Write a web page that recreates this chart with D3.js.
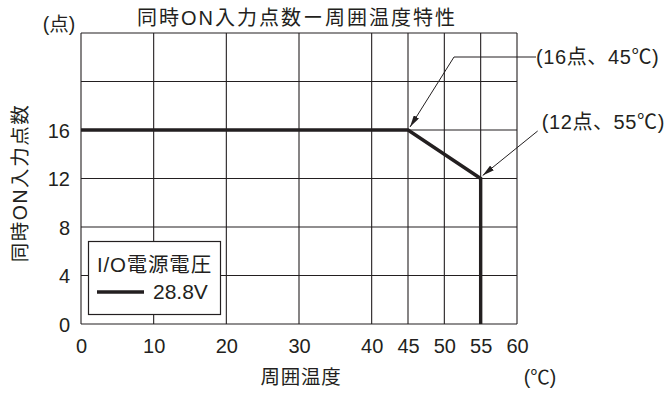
<!DOCTYPE html>
<html><head><meta charset="utf-8">
<script src="https://cdn.jsdelivr.net/npm/d3@7/dist/d3.min.js"></script>
<style>
body{margin:0;background:#fff;}
svg{display:block;}
</style></head>
<body>
<svg id="c" width="667" height="394"></svg>
<script>
const title = "同時ON入力点数ー周囲温度特性";
const xTicks = [0,10,20,30,40,45,50,55,60];
const yTicks = [0,4,8,12,16];
const yGrid = [0,4,8,12,16,20,24];
const temps = [0,45,55,55];
const points = [16,16,12,0];
const seriesName = "28.8V";
const legendTitle = "I/O電源電圧";
const notes = [
  {t:45, v:16, label:"(16点、45℃)"},
  {t:55, v:12, label:"(12点、55℃)"}
];

const CJK = '"Noto Sans CJK JP","Noto Sans",sans-serif';
const LAT = '"Liberation Sans",Arial,sans-serif';
const ink="#231f20";
const svg = d3.select("#c");
const L=81, R=517, T=33, B=324;
const x = d3.scaleLinear().domain([0,60]).range([L,R]);
const y = d3.scaleLinear().domain([0,24]).range([B,T]);

// mixed-script text: latin runs in Liberation Sans, CJK runs in Noto Sans CJK
function mixed(sel, str, size, ls){
  const runs = str.match(/[\x00-\x7F]+|[^\x00-\x7F]+/g) || [];
  runs.forEach(r=>{
    const lat = /^[\x00-\x7F]+$/.test(r);
    sel.append("tspan").attr("font-family", lat?LAT:CJK)
      .attr("font-size", size).text(r);
  });
  if(ls) sel.attr("letter-spacing", ls);
  return sel;
}

// grid
svg.append("g").selectAll("line").data(xTicks).join("line")
  .attr("x1",d=>x(d)).attr("x2",d=>x(d)).attr("y1",T).attr("y2",B)
  .attr("stroke",ink).attr("stroke-width",1.1);
svg.append("g").selectAll("line").data(yGrid).join("line")
  .attr("y1",d=>y(d)).attr("y2",d=>y(d)).attr("x1",L).attr("x2",R)
  .attr("stroke",ink).attr("stroke-width",1.1);

// axes tick labels
const xa = svg.append("g").attr("transform",`translate(0,${B})`)
  .call(d3.axisBottom(x).tickValues(xTicks).tickSize(0).tickPadding(15));
xa.attr("font-family",LAT).attr("font-size",20);
xa.select(".domain").remove();
xa.selectAll("text").attr("fill",ink);
const ya = svg.append("g").attr("transform",`translate(${L},0)`)
  .call(d3.axisLeft(y).tickValues(yTicks).tickSize(0).tickPadding(11));
ya.attr("font-family",LAT).attr("font-size",20);
ya.select(".domain").remove();
ya.selectAll("text").attr("fill",ink).attr("dy","0.36em");

// data line
const line = d3.line().x((d,i)=>x(temps[i])).y((d,i)=>y(d));
svg.append("path").datum(points).attr("d",line).attr("fill","none")
  .attr("stroke",ink).attr("stroke-width",3.4).attr("stroke-linejoin","miter");

// titles
mixed(svg.append("text").attr("x",297).attr("y",25).attr("text-anchor","middle").attr("fill",ink), title, 20, 2);
mixed(svg.append("text").attr("x",59).attr("y",31).attr("text-anchor","middle").attr("fill",ink), "(点)", 19.5);
mixed(svg.append("text").attr("transform","translate(27,183) rotate(-90)").attr("text-anchor","middle").attr("fill",ink), "同時ON入力点数", 19.5, 1.5);
mixed(svg.append("text").attr("x",301).attr("y",384).attr("text-anchor","middle").attr("fill",ink), "周囲温度", 19.5, 0.8);
mixed(svg.append("text").attr("x",540).attr("y",384).attr("text-anchor","middle").attr("fill",ink), "(℃)", 19.5);

// legend
const lg = svg.append("g");
lg.append("rect").attr("x",88.5).attr("y",241.5).attr("width",132).attr("height",73)
  .attr("fill","#fff").attr("stroke",ink).attr("stroke-width",1.2);
mixed(lg.append("text").attr("x",97).attr("y",272).attr("fill",ink), legendTitle, 20.5, 0.8);
lg.append("line").attr("x1",97).attr("x2",144).attr("y1",292).attr("y2",292).attr("stroke",ink).attr("stroke-width",3.4);
lg.append("text").attr("font-family",LAT).attr("x",153).attr("y",299).attr("font-size",21).attr("fill",ink).text(seriesName);

// annotations
svg.append("defs").append("marker").attr("id","ah").attr("viewBox","0 0 12 6").attr("refX",12).attr("refY",3)
  .attr("markerWidth",12).attr("markerHeight",6).attr("markerUnits","userSpaceOnUse").attr("orient","auto")
  .append("path").attr("d","M0,0L12,3L0,6Z").attr("fill",ink);
const n1=notes[0], n2=notes[1];
svg.append("line").attr("x1",x(n1.t)+46).attr("y1",57).attr("x2",x(n1.t)+128).attr("y2",57).attr("stroke",ink).attr("stroke-width",1);
svg.append("line").attr("x1",x(n1.t)+46).attr("y1",57).attr("x2",x(n1.t)+2).attr("y2",y(n1.v)-3)
  .attr("stroke",ink).attr("stroke-width",1).attr("marker-end","url(#ah)");
mixed(svg.append("text").attr("x",x(n1.t)+128).attr("y",64).attr("fill",ink), n1.label, 20, 0.6);
svg.append("line").attr("x1",x(n2.t)+57).attr("y1",131).attr("x2",x(n2.t)+2).attr("y2",y(n2.v)-3)
  .attr("stroke",ink).attr("stroke-width",1).attr("marker-end","url(#ah)");
mixed(svg.append("text").attr("x",x(n2.t)+61).attr("y",129).attr("fill",ink), n2.label, 20, 0.6);
</script>
</body></html>
